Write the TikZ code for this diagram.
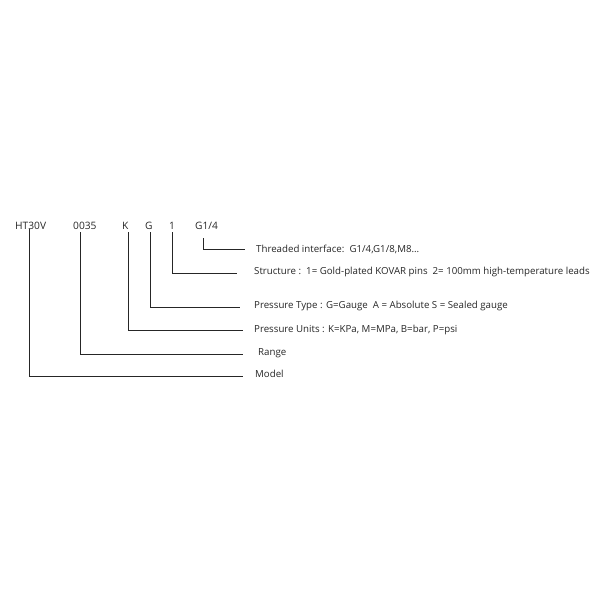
\documentclass[tikz,border=0pt]{standalone}
\usepackage{fontspec}
\setmainfont{Open Sans}
\begin{document}
\begin{tikzpicture}[x=1pt,y=-1pt,
  code/.style={anchor=base west,inner sep=0pt,font=\fontsize{10.2}{12}\selectfont,text=black!85},
  lbl/.style={anchor=west,inner sep=0pt,font=\fontsize{9.7}{11}\selectfont,text=black!85},
  lead/.style={draw=black!85,line width=0.8pt}]
\useasboundingbox (0,0) rectangle (600,600);
% codes
\node[code] (model) at (15,229) {HT30V};
\node[code] (range) at (73,229) {0035};
\node[code] (units) at (122,229) {K};
\node[code] (type) at (145,229) {G};
\node[code] (struct) at (169,229) {1};
\node[code] (thread) at (195,229) {G1/4};
% labels
\node[lbl] (lthread) at (256,249) {Threaded interface:\ \ G1/4,G1/8,M8...};
\node[lbl] (lstruct) at (254,272) {Structure :\ \ 1= Gold-plated KOVAR pins\ \ 2= 100mm high-temperature leads};
\node[lbl] (ltype) at (254,306) {Pressure Type : G=Gauge\ \ A = Absolute S = Sealed gauge};
\node[lbl] (lunits) at (254,330) {Pressure Units : K=KPa, M=MPa, B=bar, P=psi};
\node[lbl] (lrange) at (258,353) {Range};
\node[lbl] (lmodel) at (255,374) {Model};
% leader corners
\coordinate (cthread) at (203,249);
\coordinate (cstruct) at (172,273);
\coordinate (ctype) at (150,307);
\coordinate (cunits) at (128,330);
\coordinate (crange) at (80,354);
\coordinate (cmodel) at (29,376);
\draw[lead] (203,238) -- (cthread) -- ([xshift=-11pt]lthread.west |- cthread);
\draw[lead] (172,232) -- (cstruct) -- (237,273);
\draw[lead] (150,232) -- (ctype) -- (240,307);
\draw[lead] (128,232) -- (cunits) -- (243,330);
\draw[lead] (80,232) -- (crange) -- (243,354);
\draw[lead] (29,229) -- (cmodel) -- (243,376);
\end{tikzpicture}
\end{document}
